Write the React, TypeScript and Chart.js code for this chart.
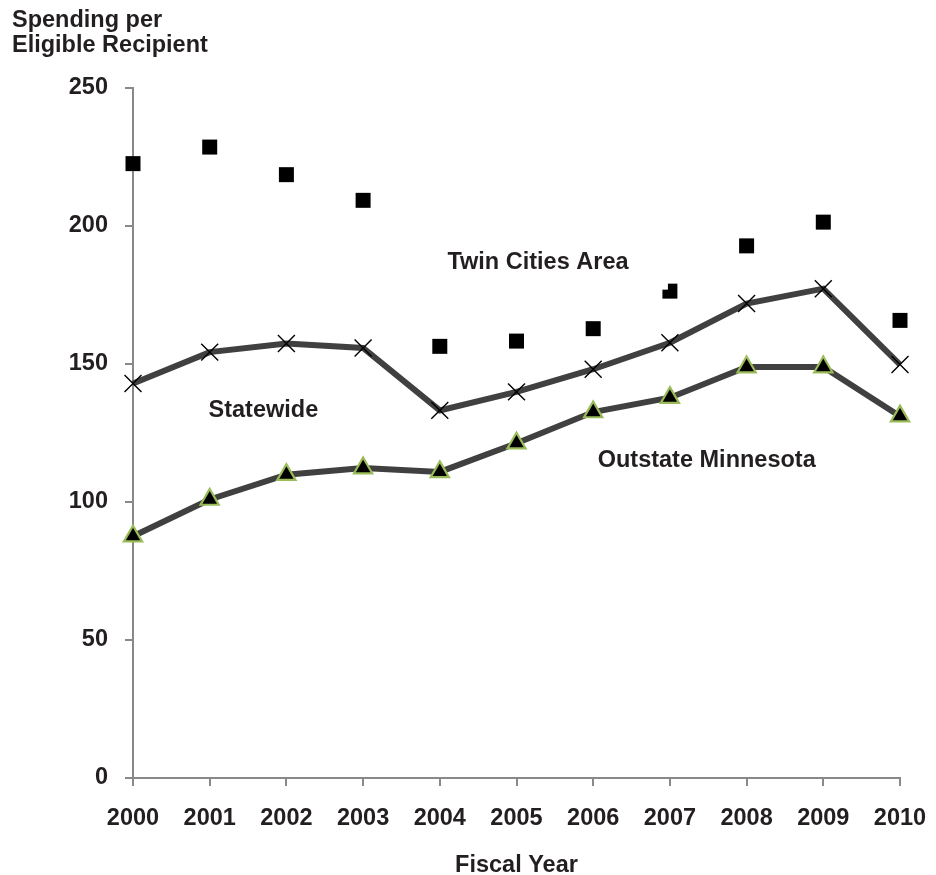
import React, { useEffect, useRef } from "react";
import { Chart, registerables } from "chart.js";

Chart.register(...registerables);

const categories = ["2000", "2001", "2002", "2003", "2004", "2005", "2006", "2007", "2008", "2009", "2010"];
const twinCities = [222.6, 228.6, 218.6, 209.3, 156.4, 158.3, 162.8, 176.4, 192.8, 201.4, 165.8];
const statewide = [142.9, 154.3, 157.4, 155.8, 133.2, 139.9, 148.1, 157.7, 171.9, 177.3, 149.8];
const outstate = [87.6, 100.9, 109.9, 112.3, 110.9, 121.3, 132.6, 137.8, 148.9, 148.9, 131.1];
const yTicks = [0, 50, 100, 150, 200, 250];

const seriesLabels = ["Twin Cities Area", "Statewide", "Outstate Minnesota"];

const FONT_FAMILY = '"Liberation Sans", Arial, Helvetica, sans-serif';
const FONT_SIZE = 23.5;
const TEXT_COLOR = "#231f20";
const AXIS_COLOR = "#898989";

export default function App() {
  const canvasRef = useRef<HTMLCanvasElement | null>(null);

  useEffect(() => {
    const canvas = canvasRef.current;
    if (!canvas) return;

    const textPlugin = {
      id: "textPlugin",
      afterDatasetsDraw(chart: any) {
        const ctx = chart.ctx;
        const xs = chart.scales.x;
        const ys = chart.scales.y;
        ctx.save();
        // white label box of the Twin Cities label (covers part of a marker as in the reference)
        const boxRight = xs.getPixelForValue(7) - 2;
        const boxBottom = ys.getPixelForValue(twinCities[7]) - 1.5;
        ctx.fillStyle = "#ffffff";
        ctx.fillRect(420, 238, boxRight - 420, boxBottom - 238);

        ctx.font = `bold ${FONT_SIZE}px ${FONT_FAMILY}`;
        ctx.fillStyle = TEXT_COLOR;
        ctx.textAlign = "center";
        ctx.textBaseline = "middle";
        const labelPos = [
          { text: seriesLabels[0], i: 5.28, v: 186.8 },
          { text: seriesLabels[1], i: 1.7, v: 133.2 },
          { text: seriesLabels[2], i: 7.48, v: 115.1 },
        ];
        for (const l of labelPos) {
          ctx.fillText(l.text, xs.getPixelForValue(l.i), ys.getPixelForValue(l.v));
        }
        ctx.restore();
      },
      afterDraw(chart: any) {
        const ctx = chart.ctx;
        const area = chart.chartArea;
        ctx.save();
        ctx.font = `bold ${FONT_SIZE}px ${FONT_FAMILY}`;
        ctx.fillStyle = TEXT_COLOR;
        ctx.textAlign = "left";
        ctx.textBaseline = "alphabetic";
        ctx.fillText("Spending per", 12, 27);
        ctx.fillText("Eligible Recipient", 12, 52);
        ctx.textAlign = "center";
        ctx.fillText("Fiscal Year", (area.left + area.right) / 2, 872);
        ctx.restore();
      },
    };

    const chart = new Chart(canvas, {
      type: "line",
      data: {
        labels: categories,
        datasets: [
          {
            label: seriesLabels[0],
            data: twinCities,
            showLine: false,
            pointStyle: "rect",
            pointRadius: 10.6,
            pointBackgroundColor: "#000000",
            pointBorderColor: "#000000",
            pointBorderWidth: 0,
            clip: false,
          },
          {
            label: seriesLabels[1],
            data: statewide,
            borderColor: "#404040",
            borderWidth: 6,
            tension: 0,
            pointStyle: "crossRot",
            pointRadius: 12,
            pointBorderColor: "#000000",
            pointBackgroundColor: "#000000",
            pointBorderWidth: 1.4,
            clip: false,
          },
          {
            label: seriesLabels[2],
            data: outstate,
            borderColor: "#404040",
            borderWidth: 6,
            tension: 0,
            pointStyle: "triangle",
            pointRadius: 10.5,
            pointBackgroundColor: "#000000",
            pointBorderColor: "#9bbb59",
            pointBorderWidth: 2.2,
            clip: false,
          },
        ],
      },
      options: {
        responsive: false,
        animation: false,
        events: [],
        layout: { padding: { top: 88, right: 36, left: 0, bottom: 0 } },
        plugins: {
          legend: { display: false },
          tooltip: { enabled: false },
          title: { display: false },
        },
        scales: {
          x: {
            type: "category",
            offset: false,
            grid: {
              display: true,
              drawOnChartArea: false,
              drawTicks: true,
              tickLength: 8,
              color: AXIS_COLOR,
              lineWidth: 2,
            },
            border: { display: true, color: AXIS_COLOR, width: 2 },
            ticks: {
              color: TEXT_COLOR,
              padding: 18,
              maxRotation: 0,
              autoSkip: false,
              font: { family: FONT_FAMILY, size: FONT_SIZE, weight: "bold" },
            },
            afterFit(scale: any) {
              scale.height = 97;
              scale.paddingLeft = 0;
              scale.paddingRight = 0;
            },
          },
          y: {
            min: 0,
            max: 250,
            afterBuildTicks(scale: any) {
              scale.ticks = yTicks.map((v) => ({ value: v }));
            },
            grid: {
              display: true,
              drawOnChartArea: false,
              drawTicks: true,
              tickLength: 8,
              color: AXIS_COLOR,
              lineWidth: 2,
            },
            border: { display: true, color: AXIS_COLOR, width: 2 },
            ticks: {
              color: TEXT_COLOR,
              padding: 17,
              font: { family: FONT_FAMILY, size: FONT_SIZE, weight: "bold" },
            },
            afterFit(scale: any) {
              scale.width = 133;
            },
          },
        },
      },
      plugins: [textPlugin],
    } as any);

    return () => {
      chart.destroy();
    };
  }, []);

  return (
    <div style={{ position: "absolute", left: 0, top: 0, width: 936, height: 875, background: "#ffffff" }}>
      <canvas ref={canvasRef} width={936} height={875} style={{ width: 936, height: 875, display: "block" }} />
    </div>
  );
}
